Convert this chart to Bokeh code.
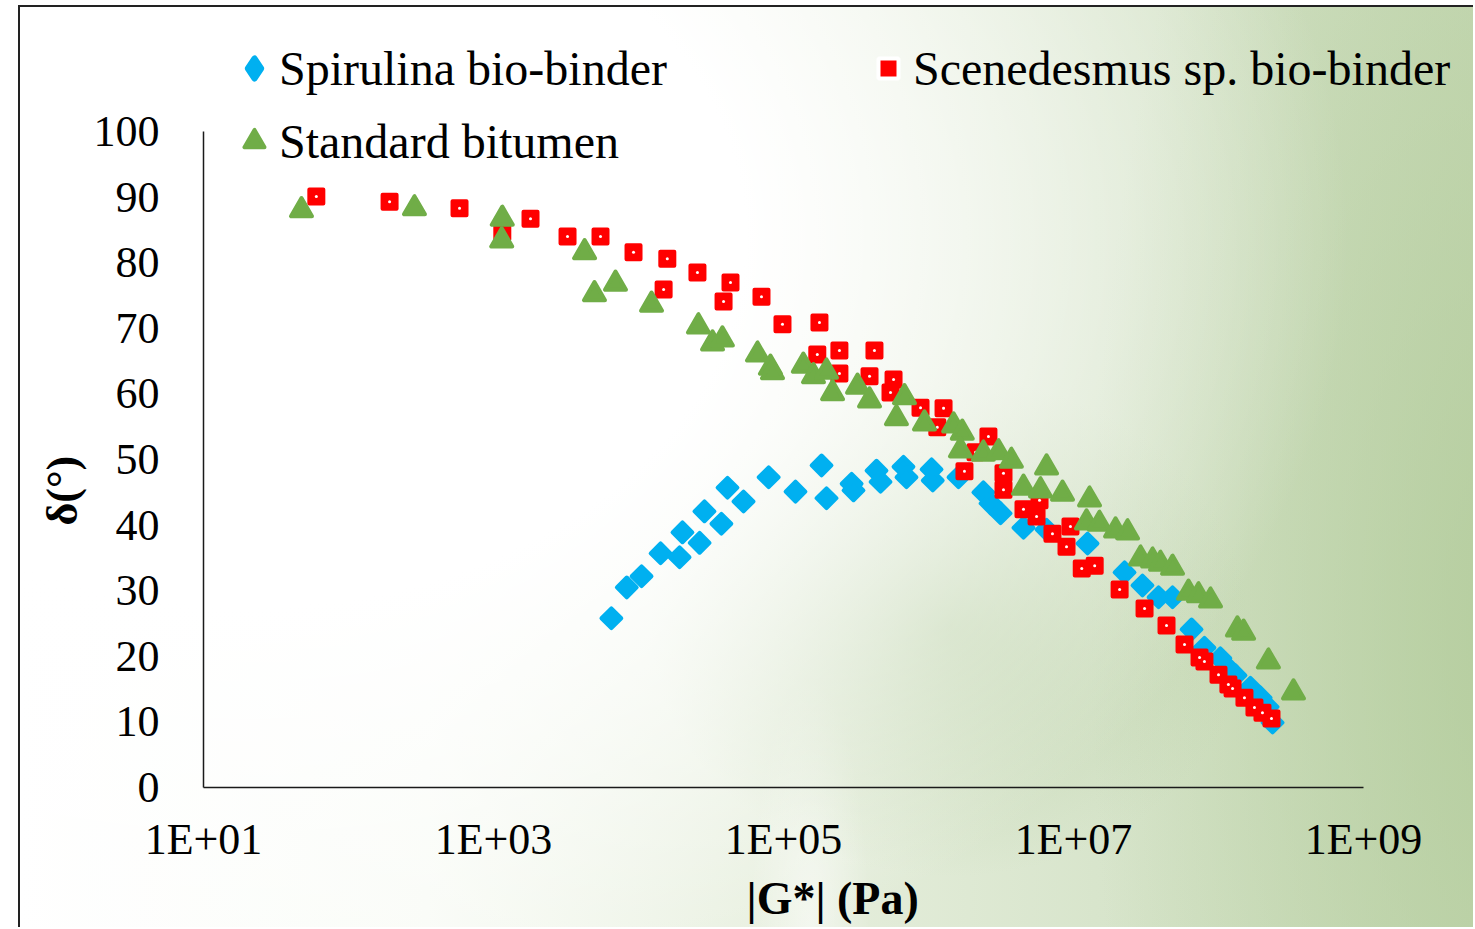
from bokeh.plotting import figure
from bokeh.models import (ColumnDataSource, FixedTicker, Legend, LegendItem, Title)
from bokeh.embed import file_html
from bokeh.resources import INLINE

# |G*| (Pa) and phase angle delta (deg) for each binder
spirulina_g = [6.5e3, 8.3e3, 1.05e4, 1.42e4, 1.92e4, 2.01e4, 2.64e4, 2.85e4, 3.73e4, 4.11e4,
               5.3e4, 7.9e4, 1.21e5, 1.83e5, 1.98e5, 2.95e5, 3.04e5, 4.38e5, 4.67e5, 6.72e5,
               7.05e5, 1.05e6, 1.07e6, 1.61e6, 2.39e6, 2.68e6, 3.14e6, 4.52e6, 6.52e6, 1.25e7,
               2.25e7, 2.99e7, 3.86e7, 4.82e7, 6.52e7, 8.0e7, 1.03e8, 1.15e8, 1.31e8, 1.66e8,
               1.95e8, 2.18e8, 2.36e8]
spirulina_delta = [25.8, 30.5, 32.2, 35.7, 35.1, 38.9, 37.3, 42.1, 40.2, 45.7,
                   43.6, 47.3, 45.1, 49.1, 44.1, 46.3, 45.3, 48.3, 46.6, 48.9,
                   47.3, 48.5, 46.8, 47.3, 45.0, 43.3, 41.8, 39.6, 39.3, 37.2,
                   32.8, 30.8, 29.0, 29.0, 24.1, 21.3, 19.7, 18.3, 17.1, 15.2,
                   13.7, 12.3, 9.9]

scenedesmus_g = [60, 192, 583, 1150, 1800, 3240, 5470, 9240, 1.58e4, 1.49e4,
                 2.55e4, 4.31e4, 3.86e4, 7.05e4, 9.84e4, 1.77e5, 1.71e5, 2.43e5, 2.43e5, 4.24e5,
                 3.92e5, 5.74e5, 5.47e5, 8.81e5, 1.27e6, 1.15e6, 2.59e6, 2.11e6, 1.77e6, 3.29e6,
                 3.29e6, 4.52e6, 5.83e6, 5.56e6, 7.16e6, 9.53e6, 8.95e6, 1.14e7, 1.40e7, 2.08e7,
                 3.09e7, 4.38e7, 5.83e7, 7.4e7, 8.0e7, 1.0e8, 1.17e8, 1.25e8, 1.51e8, 1.77e8,
                 2.01e8, 2.32e8]
scenedesmus_delta = [90.1, 89.3, 88.3, 84.6, 86.7, 84.0, 84.0, 81.6, 80.6, 75.9,
                     78.5, 77.0, 74.1, 74.8, 70.6, 70.9, 66.0, 66.6, 63.1, 66.6,
                     62.7, 62.2, 60.2, 57.9, 57.8, 54.9, 53.5, 51.1, 48.2, 47.9,
                     45.4, 42.4, 43.8, 41.3, 38.7, 39.8, 36.7, 33.4, 33.8, 30.2,
                     27.3, 24.7, 21.8, 19.8, 19.2, 17.2, 15.7, 15.1, 13.7, 12.2,
                     11.4, 10.5]

bitumen_g = [47.4, 285, 1150, 1140, 4250, 4970, 6940, 1.23e4, 2.59e4, 3.24e4,
             3.79e4, 6.62e4, 8.13e4, 8.4e4, 1.37e5, 1.61e5, 1.98e5, 2.18e5, 3.24e5, 3.92e5,
             6.83e5, 6.01e5, 9.38e5, 1.49e6, 1.71e6, 1.66e6, 2.39e6, 3.04e6, 3.73e6, 4.52e6,
             6.52e6, 5.92e6, 8.4e6, 1.29e7, 1.23e7, 1.51e7, 1.95e7, 2.36e7, 2.9e7, 3.51e7,
             3.98e7, 4.82e7, 6.21e7, 7.28e7, 8.81e7, 1.35e8, 1.49e8, 2.21e8, 3.29e8]
bitumen_delta = [88.0, 88.3, 86.7, 83.4, 81.6, 75.2, 76.8, 73.6, 70.3, 67.7,
                 68.3, 66.0, 64.0, 63.3, 64.3, 62.7, 63.4, 60.1, 61.1, 59.0,
                 59.5, 56.3, 55.5, 55.2, 54.1, 51.4, 50.9, 51.1, 49.8, 45.7,
                 48.8, 45.3, 44.8, 43.9, 40.4, 40.2, 39.2, 38.9, 34.9, 34.6,
                 34.1, 33.5, 29.7, 29.3, 28.5, 24.1, 23.6, 19.2, 14.5]

series_names = ["Spirulina bio-binder", "Scenedesmus sp. bio-binder", "Standard bitumen"]
x_ticks = [1e1, 1e3, 1e5, 1e7, 1e9]
x_tick_labels = ["1E+01", "1E+03", "1E+05", "1E+07", "1E+09"]
y_ticks = list(range(0, 101, 10))
x_title_text = "|G*| (Pa)"
y_title_text = "δ(°)"

SERIF = "Liberation Serif"
BLUE, RED, GREEN = "#00B0F0", "#FF0000", "#70AD47"

page_background = (
    "radial-gradient(ellipse 1100px 820px at 230px 230px, #ffffff 45%, rgba(255,255,255,0) 100%),"
    "radial-gradient(ellipse 300px 250px at 930px 620px, rgba(178,203,156,0.55), rgba(178,203,156,0) 100%),"
    "radial-gradient(ellipse 60px 260px at 790px 930px, rgba(255,255,255,0.55), rgba(255,255,255,0) 100%),"
    "radial-gradient(ellipse 430px 1150px at 1500px 620px, rgba(176,202,152,0.8), rgba(176,202,152,0) 100%),"
    "linear-gradient(to right, #ffffff 0%, #f8fbf5 28%, #e7efde 52%, #d8e5cc 74%, #cadbb9 100%)"
)

# the frame reaches beyond the labelled 0-100 / 1E+01-1E+09 span so the legend can sit
# in the upper part of the chart; the axes themselves are bounded to that span
p = figure(width=1455, height=922, x_axis_type="log",
           x_range=(1e1, 10 ** (1 + 1262 / 145)), y_range=(0, 767 / 6.56),
           output_backend="svg", toolbar_location=None,
           min_border_left=183, min_border_right=10,
           min_border_top=13, min_border_bottom=142)
p.styles = {"margin-left": "18px", "margin-top": "5px",
            "border-left": "2px solid #222222", "border-top": "2px solid #222222",
            "background": page_background}
p.border_fill_alpha = 0
p.background_fill_alpha = 0
p.outline_line_color = None
p.xgrid.visible = False
p.ygrid.visible = False

for ax in (p.xaxis[0], p.yaxis[0]):
    ax.axis_line_color = "#1a1a1a"
    ax.axis_line_width = 1.5
    ax.major_tick_line_color = None
    ax.minor_tick_line_color = None
    ax.major_label_text_font = SERIF
    ax.major_label_text_font_size = "44px"
    ax.major_label_text_color = "#000000"

p.xaxis.bounds = (x_ticks[0], x_ticks[-1])
p.xaxis.ticker = FixedTicker(ticks=x_ticks)
p.xaxis.major_label_overrides = {t: s for t, s in zip(x_ticks, x_tick_labels)}
p.xaxis.major_label_standoff = 21
p.yaxis.bounds = (y_ticks[0], y_ticks[-1])
p.yaxis.ticker = FixedTicker(ticks=y_ticks)
p.yaxis.major_label_standoff = 38

src_sp = ColumnDataSource(dict(g=spirulina_g, d=spirulina_delta))
src_sc = ColumnDataSource(dict(g=scenedesmus_g, d=scenedesmus_delta))
src_bt = ColumnDataSource(dict(g=bitumen_g, d=bitumen_delta))

# zero-size copies of two series: they draw nothing in the plot, but give the legend
# a diamond swatch and a smaller red square (legend swatches take their size from the box)
sw_sp = p.scatter("g", "d", source=src_sp, marker="diamond", size=0,
                  fill_color=BLUE, line_color=BLUE, line_width=6, line_join="round")
sw_sc = p.scatter("g", "d", source=src_sc, marker="square", size=0,
                  fill_color=RED, line_color="white", line_width=4)

r_sp = p.scatter("g", "d", source=src_sp, marker="square", angle=0.785398, size=14,
                 fill_color=BLUE, line_color=BLUE, line_width=4, line_join="round")
r_sc = p.scatter("g", "d", source=src_sc, marker="square", size=14,
                 fill_color=RED, line_color=RED, line_width=4, line_join="round")
r_sc_dot = p.scatter("g", "d", source=src_sc, marker="circle", size=3,
                     fill_color="white", line_color=None)
r_bt = p.scatter("g", "d", source=src_bt, marker="triangle", size=21,
                 fill_color=GREEN, line_color=GREEN, line_width=4, line_join="round")


def make_legend(items, loc):
    return Legend(items=items, location=loc, orientation="horizontal",
                  border_line_color=None, background_fill_alpha=0,
                  padding=0, margin=0, spacing=196, label_standoff=0,
                  glyph_width=50, glyph_height=60, label_height=60,
                  label_text_font=SERIF, label_text_font_size="48px",
                  label_text_color="#000000", label_text_baseline="middle")


legend_top = make_legend([LegendItem(label=series_names[0], renderers=[sw_sp]),
                          LegendItem(label=series_names[1], renderers=[sw_sc])],
                         (26, 689))
legend_bottom = make_legend([LegendItem(label=series_names[2], renderers=[r_bt])],
                            (26, 616))
p.add_layout(legend_top, "center")
p.add_layout(legend_bottom, "center")

# axis titles, set off-centre from their axes
p.add_layout(Title(text=x_title_text, align="left", offset=543, standoff=8,
                   text_font=SERIF, text_font_size="46px", text_font_style="bold",
                   text_color="#000000"), "below")
p.add_layout(Title(text=y_title_text, align="left", offset=262, standoff=8,
                   text_font=SERIF, text_font_size="44px", text_font_style="bold",
                   text_color="#000000"), "left")

open("out.html", "w").write(file_html(p, INLINE))
